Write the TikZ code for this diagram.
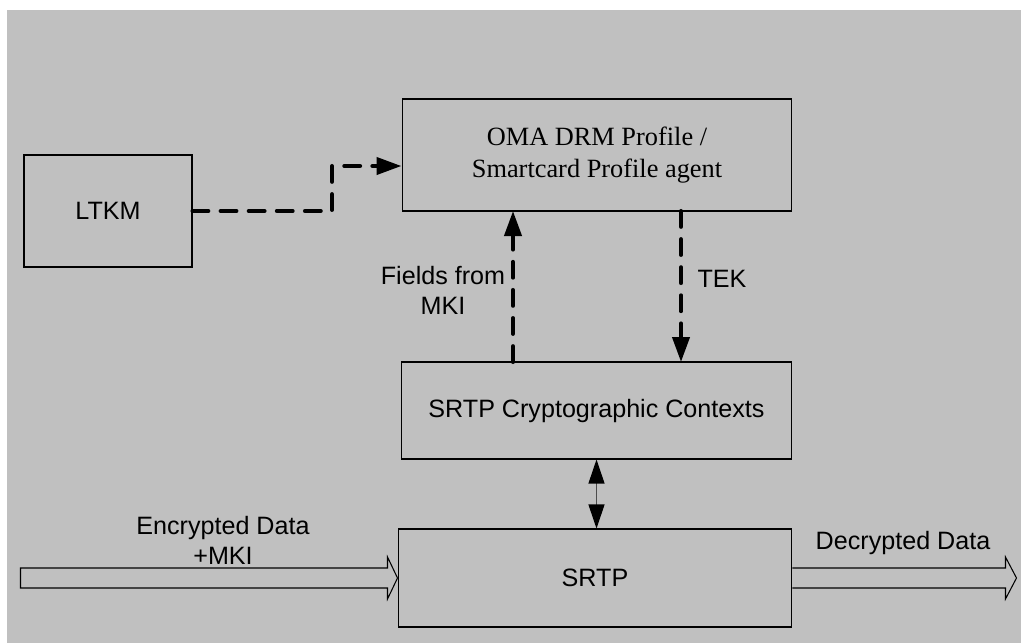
\documentclass[tikz,border=0pt]{standalone}
\usepackage{fontspec}
\setmainfont{Liberation Sans}
\newfontfamily\omafont{Liberation Serif}
\usetikzlibrary{calc,arrows.meta}

\definecolor{bggrey}{RGB}{192,192,192}
\tikzset{
  box/.style={draw, line width=0.6pt, inner sep=0pt, align=center},
  keyflow/.style={line width=2.3pt, dash pattern=on 9pt off 7pt, line cap=round,
    -{Triangle[length=0.5cm,width=0.34cm]}},
  ctxlink/.style={line width=0.6pt, draw=black!70,
    {Triangle[length=0.48cm,width=0.32cm,color=black]}-{Triangle[length=0.48cm,width=0.32cm,color=black]}},
  dataflow/.style={draw, line width=0.6pt, fill=bggrey, line join=miter},
}

\begin{document}
\begin{tikzpicture}[x=0.02cm, y=-0.02cm, font=\fontsize{14.3}{17}\selectfont]
  \useasboundingbox (0,0) rectangle (1021,643);
  \fill[bggrey] (7,10) rectangle (1021,643);

  \node[box, minimum width=7.8cm, minimum height=2.24cm, font=\omafont\fontsize{15}{18.5}\selectfont]
    (oma) at (597,155) {OMA DRM Profile /\\Smartcard Profile agent};
  \node[box, minimum width=3.36cm, minimum height=2.24cm] (ltkm) at (108,211) {LTKM};
  \node[box, minimum width=7.82cm, minimum height=1.94cm] (ctx) at (596.5,410.5) {SRTP Cryptographic Contexts};
  \node[box, minimum width=7.88cm, minimum height=1.96cm] (srtp) at (595,578) {SRTP};

  \node[align=center] (fields) at (443,290) {Fields from\\MKI};
  \node (tek) at (722,279) {TEK};
  \node[align=center] (enc) at (223,540) {Encrypted Data\\+MKI};
  \node (dec) at (903,543) {Decrypted Data};

  \coordinate (bend) at (332,166);
  \draw[keyflow] (ltkm.east) -| (bend) -- (bend -| oma.west);
  \draw[keyflow] (513,362) -- (513,211);
  \draw[keyflow] (681,211) -- (681,362);
  \draw[ctxlink] (ctx.south) -- (ctx.south |- srtp.north);

  \draw[dataflow] ($(srtp.west)+(-377,-10)$) -- ++(367,0) -- ++(0,-11) -- (srtp.west)
    -- ++(-10,21) -- ++(0,-11) -- ++(-367,0) -- cycle;
  \draw[dataflow] ($(srtp.east)+(0,-10)$) -- ++(213,0) -- ++(0,-11) -- ++(11,21)
    -- ++(-11,21) -- ++(0,-11) -- ++(-213,0);
\end{tikzpicture}
\end{document}
